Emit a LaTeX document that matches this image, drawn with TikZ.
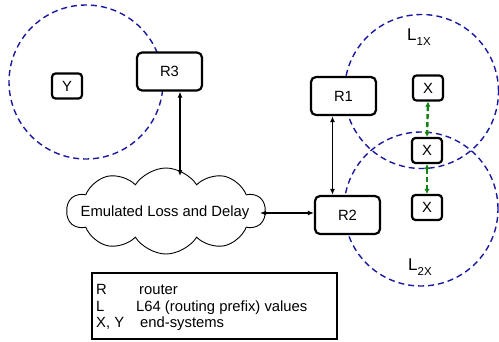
\documentclass[tikz,border=0pt]{standalone}
\usepackage{fontspec}
\setmainfont{Liberation Sans}
\usetikzlibrary{arrows.meta,shapes.symbols}
\newcommand\dfont{\fontsize{14.8}{17}\selectfont}
\newcommand\lfont{\fontsize{17}{19}\selectfont}
\newcommand\sfont{\fontsize{11.5}{13}\selectfont}
\definecolor{zonecol}{RGB}{25,25,160}
\definecolor{grn}{RGB}{20,130,20}
\begin{document}
\begin{tikzpicture}[x=1pt,y=-1pt,
  box/.style={draw,fill=white,rounded corners=5pt,line width=2.2pt,minimum width=65pt,minimum height=38pt,inner sep=0pt,font=\dfont},
  sbox/.style={draw,fill=white,rounded corners=3.5pt,line width=2.2pt,minimum width=30pt,minimum height=25pt,inner sep=0pt,font=\dfont},
  zone/.style={circle,draw=zonecol,line width=1.4pt,dash pattern=on 6pt off 4pt,minimum size=154pt,inner sep=0pt},
  dar/.style={line width=1.8pt,{Latex[length=6pt,width=5pt]}-{Latex[length=6pt,width=5pt]}},
  gar/.style={line width=2.4pt,draw=grn,dash pattern=on 5pt off 3pt,{Latex[length=5pt,width=5.5pt]}-{Latex[length=5pt,width=5.5pt]}},
  txt/.style={font=\dfont,inner sep=0pt,anchor=base west},
]
\useasboundingbox (0,0) rectangle (499,341);
\fill[white] (0,0) rectangle (499,341);
% zones
\node[zone] (Z1) at (86,82) {};
\node[zone] (Z2) at (421.5,91.5) {};
\node[zone] (Z3) at (421,209) {};
% cloud
\node[cloud,draw,fill=white,line width=0.9pt,cloud puffs=10,cloud puff arc=115,aspect=2.3,minimum width=198pt,minimum height=86pt,inner sep=0pt] (cloud) at (166,211) {};
\node[font=\dfont,inner sep=0pt] (cloudtxt) at (165,213) {Emulated Loss and Delay};
% boxes
\node[box] (R3) at (169.5,71.5) {R3};
\node[box] (R1) at (343.5,96) {R1};
\node[box] (R2) at (347.5,215) {R2};
\node[sbox] (Y) at (67,86) {Y};
\node[sbox] (X1) at (428,88) {X};
\node[sbox] (X2) at (427,150.5) {X};
\node[sbox] (X3) at (427,207.5) {X};
% labels
\node[inner sep=0pt,anchor=base west] (L1) at (407,40) {\lfont L\raisebox{-5pt}{\sfont 1X}};
\node[inner sep=0pt,anchor=base west] (L2) at (408,270) {\lfont L\raisebox{-5pt}{\sfont 2X}};
% connectors
\coordinate (c3) at (180,176);
\draw[dar] (R3.south -| c3) -- (c3);
\draw[dar] ([xshift=-11pt]R1.south) -- ([xshift=-11pt]R1.south |- R2.north);
\coordinate (ce) at (260,213);
\draw[dar] (ce) -- (ce -| R2.west);
\draw[gar] (X1.south) -- (X2.north);
\draw[gar] (X2.south) -- (X3.north);
% legend
\node[draw,line width=1.1pt,minimum width=245pt,minimum height=66pt,inner sep=0pt] (leg) at (214.5,306) {};
\node[txt] (lr) at (96,294) {R};
\node[txt] (lrt) at (139,294) {router};
\node[txt] (ll) at (96,311) {L};
\node[txt] (llt) at (136,311) {L64 (routing prefix) values};
\node[txt] (lx) at (96,327.5) {X, Y};
\node[txt] (lxt) at (140,327.5) {end-systems};
\end{tikzpicture}
\end{document}
